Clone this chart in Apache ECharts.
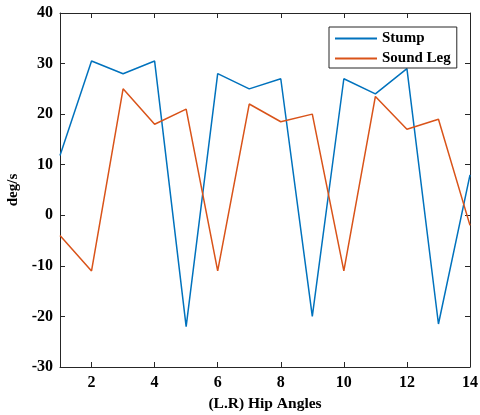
<!DOCTYPE html>
<html><head><meta charset="utf-8">
<script src="https://cdn.jsdelivr.net/npm/echarts@6/dist/echarts.min.js"></script>
<style>html,body{margin:0;padding:0;background:#fff}#c{width:480px;height:415px}</style>
</head><body><div id="c"></div>
<script>
const xValues = [1,2,3,4,5,6,7,8,9,10,11,12,13,14];
const stump = [11.8,30.5,28,30.5,-22,28,25,27,-20,27,24,29,-21.5,8];
const soundLeg = [-4,-11,25,18,21,-11,22,18.5,20,-11,23.5,17,19,-2];
const xTicks = [2,4,6,8,10,12,14];

const font = '"Liberation Serif","Times New Roman",serif';
const axisColor = '#262626';
const chart = echarts.init(document.getElementById('c'));
const baseX = {
  type:'value', min:1, max:14,
  axisLine:{show:true,onZero:false,lineStyle:{color:axisColor,width:1}},
  axisTick:{show:true,inside:true,length:5,customValues:xTicks,lineStyle:{color:axisColor}},
  splitLine:{show:false}
};
const baseY = {
  type:'value', min:-30, max:40, interval:10,
  axisLine:{show:true,onZero:false,lineStyle:{color:axisColor,width:1}},
  axisTick:{show:true,inside:true,length:5,lineStyle:{color:axisColor}},
  splitLine:{show:false}
};
chart.setOption({
  animation:false,
  grid:{left:60,right:10,top:13,bottom:48,containLabel:false,outerBoundsMode:'none'},
  legend:{
    left:329, top:27, orient:'vertical', icon:'rect', itemWidth:42, itemHeight:2, itemGap:5,
    padding:[4,6,2,6],
    borderColor:axisColor, borderWidth:1, backgroundColor:'#fff',
    textStyle:{fontFamily:font,fontWeight:'bold',fontSize:15,color:'#000'},
    data:['Stump','Sound Leg']
  },
  xAxis:[
    Object.assign({}, baseX, {
      position:'bottom',
      name:'(L.R) Hip Angles', nameLocation:'middle', nameGap:29,
      nameTextStyle:{fontFamily:font,fontWeight:'bold',fontSize:15.5,color:'#000'},
      axisLabel:{show:true,customValues:xTicks,margin:8,fontFamily:font,fontWeight:'bold',fontSize:16,color:'#000'}
    }),
    Object.assign({}, baseX, {position:'top', axisLabel:{show:false}})
  ],
  yAxis:[
    Object.assign({}, baseY, {
      position:'left',
      name:'deg/s', nameLocation:'middle', nameGap:32,
      nameTextStyle:{fontFamily:font,fontWeight:'bold',fontSize:15,color:'#000'},
      axisLabel:{show:true,margin:7,fontFamily:font,fontWeight:'bold',fontSize:16,color:'#000'}
    }),
    Object.assign({}, baseY, {position:'right', axisLabel:{show:false}})
  ],
  series:[
    {name:'Stump',type:'line',symbol:'none',data:xValues.map((x,i)=>[x,stump[i]]),
     lineStyle:{color:'#0072BD',width:1.5},itemStyle:{color:'#0072BD'}},
    {name:'Sound Leg',type:'line',symbol:'none',data:xValues.map((x,i)=>[x,soundLeg[i]]),
     lineStyle:{color:'#D95319',width:1.5},itemStyle:{color:'#D95319'}}
  ]
});
</script></body></html>
